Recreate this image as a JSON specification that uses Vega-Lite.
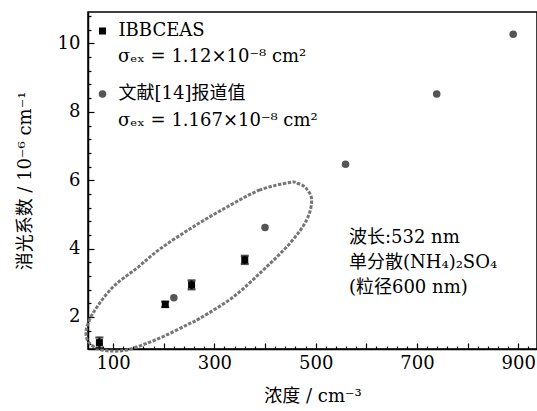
{
  "$schema": "https://vega.github.io/schema/vega-lite/v6.json",
  "width": 449,
  "height": 337,
  "autosize": "none",
  "padding": {"left": 88, "top": 12, "right": 0, "bottom": 62},
  "background": "white",
  "config": {
    "view": {"stroke": "black", "strokeWidth": 1.5},
    "font": "'DejaVu Serif', 'Noto Sans CJK SC'",
    "axis": {
      "grid": false,
      "domainColor": "black",
      "domainWidth": 1.5,
      "tickColor": "black",
      "tickWidth": 1.2,
      "labelColor": "black",
      "titleColor": "black",
      "labelFont": "DejaVu Serif",
      "labelFontSize": 18,
      "titleFont": "'DejaVu Serif', 'Noto Sans CJK SC'",
      "titleFontSize": 18,
      "titleFontWeight": "normal"
    }
  },
  "datasets": {
    "pts": [
      {"series": "IBBCEAS", "conc": 73, "ext": 1.25, "err": 0.15},
      {"series": "IBBCEAS", "conc": 203, "ext": 2.37, "err": 0.08},
      {"series": "IBBCEAS", "conc": 255, "ext": 2.94, "err": 0.13},
      {"series": "IBBCEAS", "conc": 360, "ext": 3.67, "err": 0.12},
      {"series": "文献[14]报道值", "conc": 220, "ext": 2.56},
      {"series": "文献[14]报道值", "conc": 400, "ext": 4.62},
      {"series": "文献[14]报道值", "conc": 559, "ext": 6.47},
      {"series": "文献[14]报道值", "conc": 739, "ext": 8.52},
      {"series": "文献[14]报道值", "conc": 890, "ext": 10.27}
    ],
    "ellipse": [
      {"i": 1, "conc": 449.2, "ext": 5.934},
      {"i": 2, "conc": 390.0, "ext": 5.715},
      {"i": 3, "conc": 324.9, "ext": 5.218},
      {"i": 4, "conc": 257.8, "ext": 4.633},
      {"i": 5, "conc": 192.6, "ext": 3.989},
      {"i": 6, "conc": 147.2, "ext": 3.433},
      {"i": 7, "conc": 99.85, "ext": 2.878},
      {"i": 8, "conc": 64.3, "ext": 2.205},
      {"i": 9, "conc": 49.5, "ext": 1.766},
      {"i": 10, "conc": 46.55, "ext": 1.503},
      {"i": 11, "conc": 51.1, "ext": 1.278},
      {"i": 12, "conc": 67.7, "ext": 1.084},
      {"i": 13, "conc": 93.9, "ext": 1.006},
      {"i": 14, "conc": 126.9, "ext": 1.035},
      {"i": 15, "conc": 166.4, "ext": 1.231},
      {"i": 16, "conc": 205.9, "ext": 1.474},
      {"i": 17, "conc": 245.3, "ext": 1.766},
      {"i": 18, "conc": 271.6, "ext": 1.962},
      {"i": 19, "conc": 337.3, "ext": 2.585},
      {"i": 20, "conc": 396.5, "ext": 3.375},
      {"i": 21, "conc": 449.2, "ext": 4.156},
      {"i": 22, "conc": 482.2, "ext": 4.837},
      {"i": 23, "conc": 492.1, "ext": 5.422},
      {"i": 24, "conc": 480.8, "ext": 5.773},
      {"i": 25, "conc": 465.0, "ext": 5.905}
    ]
  },
  "resolve": {"axis": {"x": "independent", "y": "independent"}},
  "layer": [
    {
      "data": {"name": "ellipse"},
      "mark": {"type": "line", "interpolate": "cardinal-closed", "color": "#767676", "strokeWidth": 3, "strokeDash": [3.4, 1.5], "clip": false},
      "encoding": {
        "x": {"field": "conc", "type": "quantitative", "scale": {"domain": [50.5, 937], "nice": false, "zero": false},
          "axis": {"orient": "bottom", "values": [60,80,120,140,160,180,220,240,260,280,320,340,360,380,420,440,460,480,520,540,560,580,620,640,660,680,720,740,760,780,820,840,860,880,920], "labels": false, "tickSize": -3, "domain": false, "title": null}},
        "y": {"field": "ext", "type": "quantitative", "scale": {"domain": [1.064, 10.92], "nice": false, "zero": false},
          "axis": {"orient": "left", "values": [1.2,1.6,2.4,2.8,3.2,3.6,4.4,4.8,5.2,5.6,6.4,6.8,7.2,7.6,8.4,8.8,9.2,9.6,10.4,10.8], "labels": false, "tickSize": -3, "domain": false, "title": null}},
        "order": {"field": "i", "type": "quantitative"}
      }
    },
    {
      "data": {"name": "pts"},
      "transform": [{"filter": "datum.series == 'IBBCEAS'"}],
      "mark": {"type": "errorbar", "ticks": {"size": 8, "thickness": 2.2, "color": "black"}, "thickness": 2.2, "color": "black"},
      "encoding": {
        "x": {"field": "conc", "type": "quantitative", "axis": null},
        "y": {"field": "ext", "type": "quantitative", "axis": null},
        "yError": {"field": "err"}
      }
    },
    {
      "data": {"name": "pts"},
      "mark": {"type": "point", "filled": true, "opacity": 1},
      "encoding": {
        "x": {"field": "conc", "type": "quantitative",
          "axis": {"orient": "bottom", "values": [100,200,300,400,500,600,700,800,900], "tickSize": -6, "labelPadding": 11,
            "labelExpr": "datum.value % 200 == 100 ? datum.label : ''", "title": "浓度 / cm⁻³", "titlePadding": 15}},
        "y": {"field": "ext", "type": "quantitative",
          "axis": {"orient": "left", "values": [2,4,6,8,10], "tickSize": -6, "labelPadding": 14, "title": "消光系数 / 10⁻⁶ cm⁻¹", "titlePadding": 23}},
        "shape": {"field": "series", "type": "nominal", "scale": {"domain": ["IBBCEAS", "文献[14]报道值"], "range": ["square", "circle"]},
          "legend": {"orient": "none", "legendX": 5.5, "legendY": 10, "title": null, "padding": 0, "rowPadding": 45, "labelOffset": 7,
            "labelFont": "'DejaVu Serif', 'Noto Sans CJK SC'", "labelFontSize": 18, "labelColor": "black", "labelLimit": 0}},
        "color": {"field": "series", "type": "nominal", "scale": {"domain": ["IBBCEAS", "文献[14]报道值"], "range": ["#000000", "#555555"]}},
        "size": {"field": "series", "type": "nominal", "scale": {"domain": ["IBBCEAS", "文献[14]报道值"], "range": [49, 57]}}
      }
    },
    {
      "data": {"values": [{}]},
      "mark": {"type": "text", "text": "σₑₓ = 1.12×10⁻⁸ cm²", "align": "left", "baseline": "middle", "fontSize": 18, "font": "DejaVu Serif", "color": "black"},
      "encoding": {
        "x": {"datum": 109.7, "type": "quantitative", "axis": null},
        "y": {"datum": 9.605, "type": "quantitative", "axis": null}
      }
    },
    {
      "data": {"values": [{}]},
      "mark": {"type": "text", "text": "σₑₓ = 1.167×10⁻⁸ cm²", "align": "left", "baseline": "middle", "fontSize": 18, "font": "DejaVu Serif", "color": "black"},
      "encoding": {
        "x": {"datum": 109.7, "type": "quantitative", "axis": null},
        "y": {"datum": 7.733, "type": "quantitative", "axis": null}
      }
    },
    {
      "data": {"values": [{}]},
      "mark": {"type": "text", "text": ["波长:532 nm", "单分散(NH₄)₂SO₄", "(粒径600 nm)"], "align": "left", "baseline": "middle", "lineHeight": 25, "fontSize": 18, "font": "'DejaVu Serif', 'Noto Sans CJK SC'", "color": "black"},
      "encoding": {
        "x": {"datum": 565.7, "type": "quantitative", "axis": null},
        "y": {"datum": 4.31, "type": "quantitative", "axis": null}
      }
    }
  ]
}
